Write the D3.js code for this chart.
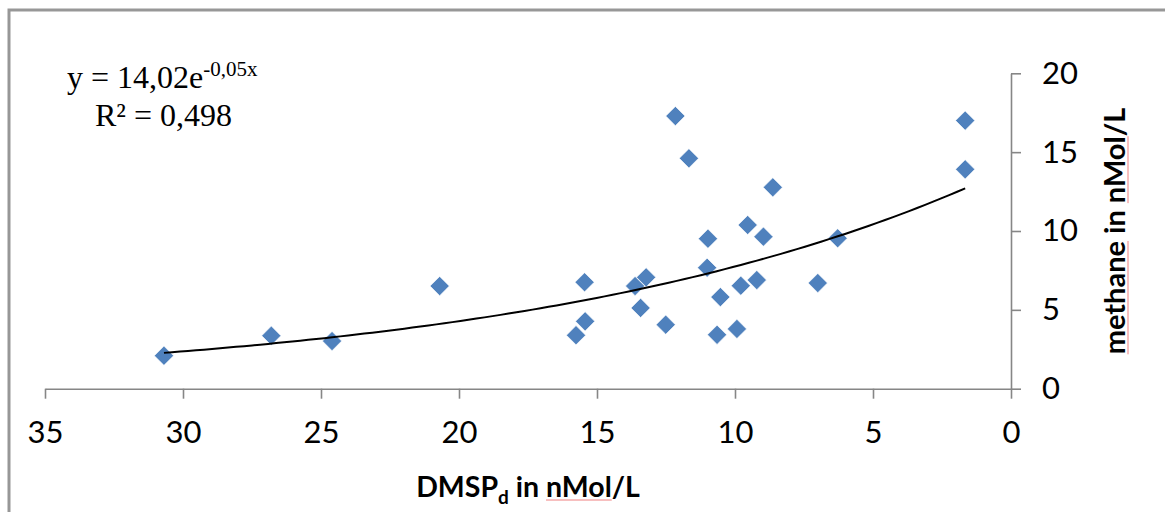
<!DOCTYPE html>
<html>
<head>
<meta charset="utf-8">
<script src="https://cdn.jsdelivr.net/npm/d3@7"></script>
<style>
  html, body { margin: 0; padding: 0; background: #fff; }
  svg { display: block; }
</style>
</head>
<body>
<svg id="chart" width="1165" height="512"></svg>
<script>
// DMSPd (x) und Methan (y)
const dmsp = [20.7, 15.45, 15.43, 15.76, 13.62, 13.22, 13.42, 12.51, 12.16, 11.67,
              10.98, 11.01, 10.53, 10.65, 9.93, 9.79, 9.21, 9.54, 8.97, 8.63,
              1.66, 1.66, 6.28, 7.0, 30.69, 26.8, 24.6];
const methane = [6.51, 6.75, 4.27, 3.39, 6.51, 7.06, 5.12, 4.06, 17.29, 14.61,
                 9.51, 7.67, 5.81, 3.42, 3.79, 6.53, 6.89, 10.38, 9.64, 12.77,
                 17.0, 13.91, 9.54, 6.7, 2.09, 3.36, 3.02];
const xTicks = [35, 30, 25, 20, 15, 10, 5, 0];
const yTicks = [0, 5, 10, 15, 20];

// Trendlinie (exponentiell, wie in Excel angezeigt)
const trendA = 14.02;
const trendB = -0.0593;

const points = dmsp.map((d, i) => ({x: d, y: methane[i]}));

const svg = d3.select('#chart');
const grey = '#868686';

// Rahmen (rechts und unten abgeschnitten)
svg.append('rect')
  .attr('x', 9).attr('y', 10)
  .attr('width', 1200).attr('height', 560)
  .attr('fill', 'none').attr('stroke', '#979797').attr('stroke-width', 3);

// x läuft rückwärts: 35 links, 0 rechts
const x = d3.scaleLinear().domain([35, 0]).range([45, 1011]);
const y = d3.scaleLinear().domain([0, 20]).range([388.7, 73.3]);

const tickFont = 'Lato, "Liberation Sans", sans-serif';

// x-Achse
const xAxis = svg.append('g')
  .attr('transform', `translate(0,${y(0)})`)
  .call(d3.axisBottom(x).tickValues(xTicks).tickSize(10).tickSizeOuter(0).tickPadding(22));
xAxis.select('.domain').attr('stroke', grey).attr('stroke-width', 1.6);
xAxis.selectAll('.tick line').attr('stroke', grey).attr('stroke-width', 1.6);
xAxis.selectAll('.tick text')
  .attr('font-family', tickFont).attr('font-size', 31).attr('fill', '#000');

// y-Achse rechts bei x = 0
const yAxis = svg.append('g')
  .attr('transform', `translate(${x(0)},0)`)
  .call(d3.axisRight(y).tickValues(yTicks).tickSize(10).tickSizeOuter(0).tickPadding(21));
yAxis.select('.domain').attr('stroke', grey).attr('stroke-width', 1.6);
yAxis.selectAll('.tick line').attr('stroke', grey).attr('stroke-width', 1.6);
yAxis.selectAll('.tick text')
  .attr('font-family', tickFont).attr('font-size', 31).attr('fill', '#000');

// Trendlinie von min bis max x
const xs = d3.extent(dmsp);
const trendPts = d3.range(0, 101).map(i => {
  const xv = xs[0] + (xs[1] - xs[0]) * i / 100;
  return {x: xv, y: trendA * Math.exp(trendB * xv)};
});

// Punkte (Rauten)
svg.append('g').selectAll('path')
  .data(points)
  .enter()
  .append('path')
  .attr('d', d3.symbol().type(d3.symbolSquare).size(185))
  .attr('transform', d => `translate(${x(d.x)},${y(d.y)}) rotate(45)`)
  .attr('fill', '#4F81BD')
  .attr('stroke', '#fff').attr('stroke-width', 0.6);

svg.append('path')
  .datum(trendPts)
  .attr('fill', 'none')
  .attr('stroke', '#000')
  .attr('stroke-width', 2)
  .attr('d', d3.line().x(d => x(d.x)).y(d => y(d.y)));

// Gleichung
const serif = '"Liberation Serif", "Times New Roman", serif';
const eq = svg.append('text')
  .attr('x', 67).attr('y', 88)
  .attr('font-family', serif)
  .attr('font-size', 32).attr('fill', '#000');
eq.append('tspan').text('y = 14,02e');
eq.append('tspan').attr('dy', -12).attr('font-size', 21).text('-0,05x');

svg.append('text')
  .attr('x', 95).attr('y', 126)
  .attr('font-family', serif)
  .attr('font-size', 32).attr('fill', '#000')
  .text('R² = 0,498');

// Achsentitel
const titleFont = 'Lato, "Liberation Sans", sans-serif';
const xt = svg.append('text')
  .attr('x', (x(35) + x(0)) / 2).attr('y', 497)
  .attr('text-anchor', 'middle')
  .attr('font-family', titleFont).attr('font-weight', 'bold')
  .attr('font-size', 28.5).attr('fill', '#000');
xt.append('tspan').text('DMSP');
xt.append('tspan').attr('dy', 7).attr('font-size', 19).text('d');
xt.append('tspan').attr('dy', -7).text(' in ');
const xMol = xt.append('tspan').text('nMol');
xt.append('tspan').text('/L');

const yt = svg.append('text')
  .attr('transform', `translate(1125,${(y(0) + y(20)) / 2}) rotate(-90)`)
  .attr('text-anchor', 'middle')
  .attr('font-family', titleFont).attr('font-weight', 'bold')
  .attr('font-size', 29).attr('fill', '#000');
const yMeth = yt.append('tspan').text('methane');
yt.append('tspan').text(' in ');
const yMol = yt.append('tspan').text('nMol');
yt.append('tspan').text('/L');

// rote Rechtschreib-Unterstreichung
function underline(textSel, span, rotated) {
  const node = span.node();
  const start = node.getStartPositionOfChar(0);
  const end = node.getEndPositionOfChar(node.getNumberOfChars() - 1);
  const g = rotated ? svg.append('g').attr('transform', textSel.attr('transform')) : svg.append('g');
  g.append('line')
    .attr('x1', start.x).attr('x2', end.x)
    .attr('y1', start.y + 3).attr('y2', start.y + 3)
    .attr('stroke', '#f08080').attr('stroke-width', 1);
}
underline(xt, xMol, false);
underline(yt, yMeth, true);
underline(yt, yMol, true);
</script>
</body>
</html>
